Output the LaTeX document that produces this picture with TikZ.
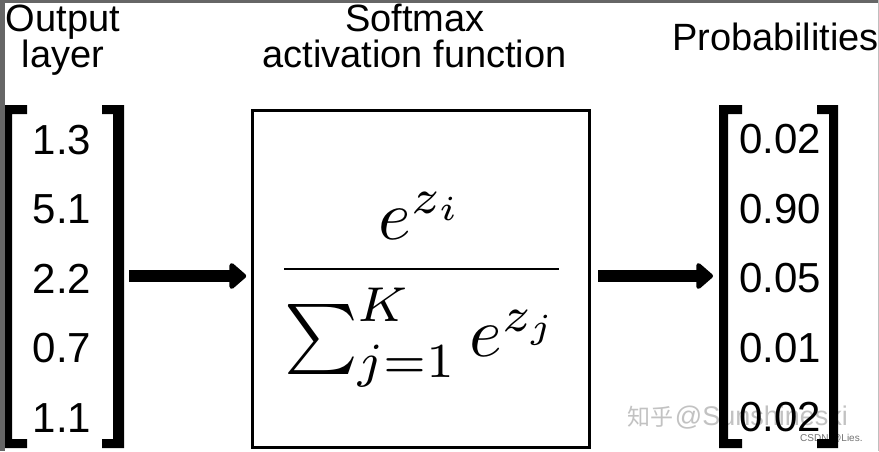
\documentclass[tikz,border=0pt]{standalone}
\usepackage[no-math]{fontspec}
\setmainfont{Liberation Sans}
\newfontfamily\cjk{Noto Sans CJK SC}
\usepackage{graphicx}
\usetikzlibrary{arrows.meta}
\begin{document}
\begin{tikzpicture}[x=1pt,y=-1pt,
  hdr/.style={font=\fontsize{38}{40}\selectfont, anchor=base, inner sep=0},
  num/.style={font=\fontsize{42}{44}\selectfont, anchor=base, inner sep=0},
  brk/.style={fill=black},
  bigarrow/.style={line width=12pt, -{Triangle[length=18pt,width=30pt,round]}},
  framecol/.style={fill=black!60}]
\useasboundingbox (0,0) rectangle (879,451);
\fill[white] (0,0) rectangle (879,451);

% watermark
\node[anchor=base west, inner sep=0, text=black!28, opacity=0.85] (wm) at (627,425)
  {{\cjk\fontsize{23}{25}\selectfont 知乎}\,{\fontsize{27}{29}\selectfont @Sunshineski}};
\node[anchor=base west, inner sep=0, text=black!55, font=\fontsize{10}{12}\selectfont] (csdn) at (800,441) {CSDN @Lies.};

% headers
\node[hdr] (h1a) at (63,31) {Output};
\node[hdr] (h1b) at (63,67.5) {layer};
\node[hdr] (h2a) at (415,31) {Softmax};
\node[hdr] (h2b) at (414.5,67.5) {activation function};
\node[hdr] (h3) at (775.5,50) {Probabilities};

% left vector
\fill[brk] (3,105) -- (27,105) -- (27,114) -- (12,114) -- (12,439) -- (27,439) -- (27,448) -- (3,448) -- cycle;
\fill[brk] (102,105) -- (124,105) -- (124,448) -- (102,448) -- (102,439) -- (113,439) -- (113,114) -- (102,114) -- cycle;
\node[num] (a1) at (62,154) {1.3};
\node[num] (a2) at (62,223.5) {5.1};
\node[num] (a3) at (62,293) {2.2};
\node[num] (a4) at (62,362.5) {0.7};
\node[num] (a5) at (62,432) {1.1};

% right vector
\fill[brk] (719,105) -- (742,105) -- (742,114) -- (728,114) -- (728,439) -- (742,439) -- (742,448) -- (719,448) -- cycle;
\fill[brk] (817,105) -- (838,105) -- (838,448) -- (817,448) -- (817,439) -- (829,439) -- (829,114) -- (817,114) -- cycle;
\node[num] (b1) at (780,153.5) {0.02};
\node[num] (b2) at (780,223) {0.90};
\node[num] (b3) at (780,292.5) {0.05};
\node[num] (b4) at (780,362) {0.01};
\node[num] (b5) at (780,431.5) {0.02};

% softmax box
\node[draw, line width=3pt, minimum width=337pt, minimum height=337pt, inner sep=0, outer sep=0] (box) at (420.7,279) {};
\node[anchor=base, inner sep=0] (frac) at (421.5,286.5)
  {\scalebox{7.0}{$\displaystyle\frac{e^{z_i}}{\raisebox{-1.3pt}[\height][\depth]{$\textstyle\sum_{j=1}^{K} e^{z_j}$}}$}};

% arrows
\coordinate (lb) at (124,276);
\coordinate (rb) at (719,276);
\draw[bigarrow, shorten <=5pt, shorten >=6pt] (lb) -- (lb -| box.west);
\draw[bigarrow, shorten <=9pt, shorten >=6pt] (rb -| box.east) -- (rb);

% screenshot frame
\fill[framecol] (0,0) rectangle (879,3);
\fill[framecol] (0,0) rectangle (4.7,451);
\fill[black!25] (877.6,0) rectangle (879,451);
\end{tikzpicture}
\end{document}
